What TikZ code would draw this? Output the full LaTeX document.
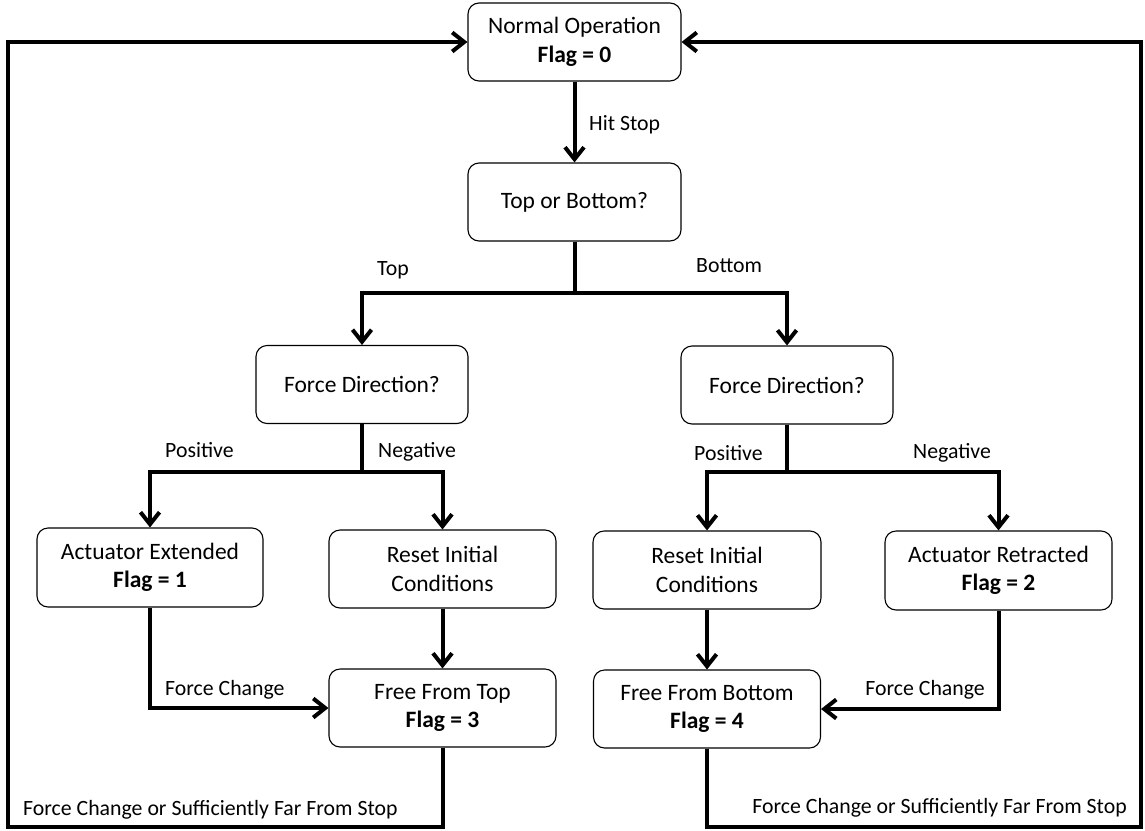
\documentclass[tikz,border=0pt]{standalone}
\usepackage{fontspec}
\setmainfont{Carlito}
\usetikzlibrary{arrows.meta}
\tikzset{
  box/.style={draw=black, line width=1.1pt, rounded corners=11pt, align=center,
    inner sep=0pt, font=\fontsize{23.5}{28.5}\selectfont},
  conn/.style={line width=4pt, line join=miter},
  arr/.style={conn, -{Straight Barb[length=12pt,width=19pt,line width=4pt]}},
  lbl/.style={inner sep=0pt, font=\fontsize{21.8}{25}\selectfont},
}
\begin{document}
\begin{tikzpicture}[x=1pt,y=-1pt]
\useasboundingbox (0,0) rectangle (1145,830);
% boxes
\node[box, minimum width=213pt, minimum height=78pt] (norm) at (574.5,42) {Normal Operation\\\textbf{Flag = 0}};
\node[box, minimum width=213pt, minimum height=78pt] (tob) at (574.5,202) {Top or Bottom?};
\node[box, minimum width=212pt, minimum height=78pt] (fdL) at (362,384.5) {Force Direction?};
\node[box, minimum width=212pt, minimum height=78pt] (fdR) at (787,385) {Force Direction?};
\node[box, minimum width=226pt, minimum height=79pt] (ae) at (150,567.5) {Actuator Extended\\\textbf{Flag = 1}};
\node[box, minimum width=227pt, minimum height=78pt] (riL) at (442.5,569) {Reset Initial\\Conditions};
\node[box, minimum width=228pt, minimum height=78pt] (riR) at (707,570) {Reset Initial\\Conditions};
\node[box, minimum width=227pt, minimum height=79pt] (ar) at (998.5,570.5) {Actuator Retracted\\\textbf{Flag = 2}};
\node[box, minimum width=227pt, minimum height=78pt] (fft) at (442.5,708) {Free From Top\\\textbf{Flag = 3}};
\node[box, minimum width=227pt, minimum height=78pt] (ffb) at (707,709) {Free From Bottom\\\textbf{Flag = 4}};
% junctions and corners
\coordinate (j1) at (574.5,293);
\coordinate (jL) at (362,472);
\coordinate (jR) at (787,472);
\coordinate (bl) at (8,827);
\coordinate (tl) at (8,42);
\coordinate (br) at (1141,827);
\coordinate (tr) at (1141,42);
% connectors
\draw[arr] (norm.south) -- (tob.north);
\draw[conn] (tob.south) -- (j1);
\draw[arr] (j1) -| (fdL.north);
\draw[arr] (j1) -| (fdR.north);
\draw[conn] (fdL.south) -- (jL);
\draw[arr] (jL) -| (ae.north);
\draw[arr] (jL) -| (riL.north);
\draw[conn] (fdR.south) -- (jR);
\draw[arr] (jR) -| (riR.north);
\draw[arr] (jR) -| (ar.north);
\draw[arr] (riL.south) -- (fft.north);
\draw[arr] (riR.south) -- (ffb.north);
\draw[arr] (ae.south) |- (fft.west);
\draw[arr] (ar.south) |- (ffb.east);
\draw[arr] (fft.south) -- (fft.south |- bl) -- (bl) -- (tl) -- (norm.west);
\draw[arr] (ffb.south) -- (ffb.south |- br) -- (br) -- (tr) -- (norm.east);
% labels
\node[lbl, anchor=base west] (lhit) at (589,130) {Hit Stop};
\node[lbl, anchor=base west] (ltop) at (377,275) {Top};
\node[lbl, anchor=base west] (lbot) at (696,272) {Bottom};
\node[lbl, anchor=base west] (lposL) at (165,457) {Positive};
\node[lbl, anchor=base west] (lnegL) at (378,457) {Negative};
\node[lbl, anchor=base west] (lposR) at (694,460) {Positive};
\node[lbl, anchor=base west] (lnegR) at (913,458) {Negative};
\node[lbl, anchor=base west] (lfcL) at (165,695) {Force Change};
\node[lbl, anchor=base east] (lfcR) at (985,695) {Force Change};
\node[lbl, anchor=base west] (lfsL) at (23,815) {Force Change or Sufficiently Far From Stop};
\node[lbl, anchor=base east] (lfsR) at (1127,813) {Force Change or Sufficiently Far From Stop};
\end{tikzpicture}
\end{document}
